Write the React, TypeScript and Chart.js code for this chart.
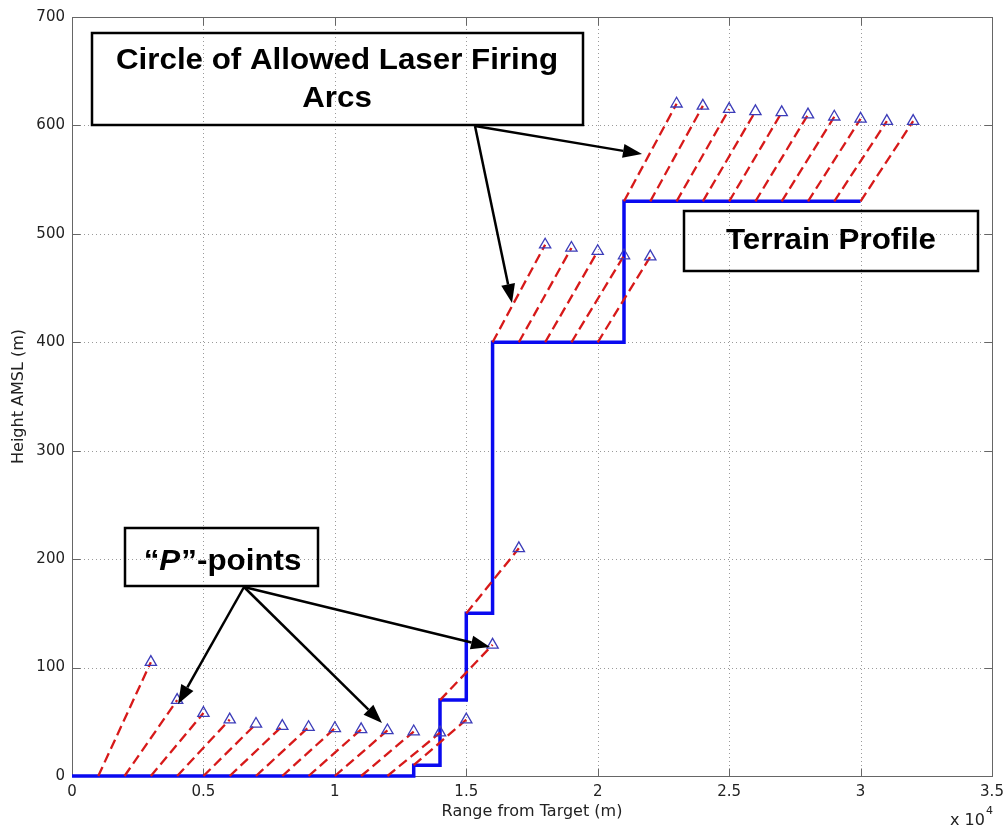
import React, { useEffect, useRef } from 'react';
import { Chart, registerables } from 'chart.js';

Chart.register(...registerables);

// ---------- data ----------
const terrainX = [0, 13000, 13000, 14000, 14000, 15000, 15000, 16000, 16000, 21000, 21000, 30000];
const terrainY = [0, 0, 10, 10, 70, 70, 150, 150, 400, 400, 530, 530];

// "P"-points (end of each laser firing arc)
const pointX = [
  3000, 4000, 5000, 6000, 7000, 8000, 9000, 10000, 11000, 12000, 13000, 14000, 15000, 16000, 17000,
  18000, 19000, 20000, 21000, 22000,
  23000, 24000, 25000, 26000, 27000, 28000, 29000, 30000, 31000, 32000,
];
const pointY = [
  105, 70, 58, 52, 48, 46, 45, 44, 43, 42, 41, 40, 52, 121, 210,
  490, 487, 484, 480, 479,
  620, 618, 615, 613, 612, 610, 608, 606, 604, 604,
];
// start of each arc on the terrain
const arcStartX = [
  1000, 2000, 3000, 4000, 5000, 6000, 7000, 8000, 9000, 10000, 11000, 12000, 13000, 14000, 15000,
  16000, 17000, 18000, 19000, 20000,
  21000, 22000, 23000, 24000, 25000, 26000, 27000, 28000, 29000, 30000,
];
const arcStartY = [
  0, 0, 0, 0, 0, 0, 0, 0, 0, 0, 0, 0, 10, 70, 150,
  400, 400, 400, 400, 400,
  530, 530, 530, 530, 530, 530, 530, 530, 530, 530,
];

const xTickLabels = ['0', '0.5', '1', '1.5', '2', '2.5', '3', '3.5'];
const yTickLabels = ['0', '100', '200', '300', '400', '500', '600', '700'];

const xTitle = 'Range from Target (m)';
const yTitle = 'Height AMSL (m)';
const boxText1 = ['Circle of Allowed Laser Firing', 'Arcs'];
const boxText2 = 'Terrain Profile';
const boxText3 = ['\u201C', 'P', '\u201D-points'];

// ---------- decoration plugin ----------
const BOLD = '"Liberation Sans", Arial, sans-serif';

function arrow(ctx: CanvasRenderingContext2D, x0: number, y0: number, x1: number, y1: number) {
  const ang = Math.atan2(y1 - y0, x1 - x0);
  const len = 19;
  const hw = 7;
  const bx = x1 - len * Math.cos(ang);
  const by = y1 - len * Math.sin(ang);
  ctx.beginPath();
  ctx.moveTo(x0, y0);
  ctx.lineTo(bx, by);
  ctx.stroke();
  ctx.beginPath();
  ctx.moveTo(x1, y1);
  ctx.lineTo(bx + hw * Math.sin(ang), by - hw * Math.cos(ang));
  ctx.lineTo(bx - hw * Math.sin(ang), by + hw * Math.cos(ang));
  ctx.closePath();
  ctx.fill();
}

function stretchedText(ctx: CanvasRenderingContext2D, text: string, cx: number, by: number, sx: number) {
  ctx.save();
  ctx.translate(cx, by);
  ctx.scale(sx, 1);
  ctx.textAlign = 'center';
  ctx.textBaseline = 'alphabetic';
  ctx.fillText(text, 0, 0);
  ctx.restore();
}

const decorPlugin = {
  id: 'decor',
  beforeDraw(chart: any) {
    const { ctx, width, height } = chart;
    ctx.save();
    ctx.fillStyle = '#ffffff';
    ctx.fillRect(0, 0, width, height);
    ctx.restore();
  },
  beforeDatasetsDraw(chart: any) {
    const { ctx, chartArea: a, scales } = chart;
    const xs = scales.x;
    const ys = scales.y;
    ctx.save();
    // dotted grid
    ctx.strokeStyle = '#9a9a9a';
    ctx.lineWidth = 1;
    ctx.setLineDash([1, 3]);
    xs.ticks.forEach((t: any) => {
      const px = Math.round(xs.getPixelForValue(t.value)) + 0.5;
      ctx.beginPath();
      ctx.moveTo(px, a.top);
      ctx.lineTo(px, a.bottom);
      ctx.stroke();
    });
    ys.ticks.forEach((t: any) => {
      const py = Math.round(ys.getPixelForValue(t.value)) + 0.5;
      ctx.beginPath();
      ctx.moveTo(a.left, py);
      ctx.lineTo(a.right, py);
      ctx.stroke();
    });
    ctx.setLineDash([]);
    // box
    ctx.strokeStyle = '#666666';
    const L = Math.round(a.left) + 0.5;
    const R = Math.round(a.right) + 0.5;
    const T = Math.round(a.top) + 0.5;
    const B = Math.round(a.bottom) + 0.5;
    ctx.strokeRect(L, T, R - L, B - T);
    // inward ticks
    const tl = 8;
    xs.ticks.forEach((t: any) => {
      const px = Math.round(xs.getPixelForValue(t.value)) + 0.5;
      ctx.beginPath();
      ctx.moveTo(px, B);
      ctx.lineTo(px, B - tl);
      ctx.moveTo(px, T);
      ctx.lineTo(px, T + tl);
      ctx.stroke();
    });
    ys.ticks.forEach((t: any) => {
      const py = Math.round(ys.getPixelForValue(t.value)) + 0.5;
      ctx.beginPath();
      ctx.moveTo(L, py);
      ctx.lineTo(L + tl, py);
      ctx.moveTo(R, py);
      ctx.lineTo(R - tl, py);
      ctx.stroke();
    });
    ctx.restore();
  },
  afterDatasetsDraw(chart: any) {
    const { ctx } = chart;
    ctx.save();
    ctx.strokeStyle = '#000000';
    ctx.fillStyle = '#000000';
    ctx.lineWidth = 2.5;
    ctx.lineJoin = 'miter';
    // boxes
    ctx.strokeRect(92, 33, 491, 92);
    ctx.strokeRect(684, 211, 294, 60);
    ctx.strokeRect(125, 528, 193, 58);
    // arrows
    ctx.lineWidth = 2.5;
    arrow(ctx, 475, 126, 642, 154);
    arrow(ctx, 475, 126, 512, 303);
    arrow(ctx, 244, 587, 178, 704);
    arrow(ctx, 244, 587, 382, 723);
    arrow(ctx, 244, 587, 490, 647);
    // texts
    ctx.font = `bold 29px ${BOLD}`;
    stretchedText(ctx, boxText1[0], 337, 69, 1.08);
    stretchedText(ctx, boxText1[1], 337, 107, 1.08);
    stretchedText(ctx, boxText2, 831, 249, 1.08);
    // "P"-points with italic P
    const sx = 1.08;
    const fNorm = `bold 29px ${BOLD}`;
    const fItal = `italic bold 29px ${BOLD}`;
    ctx.font = fNorm;
    const w0 = ctx.measureText(boxText3[0]).width;
    const w2 = ctx.measureText(boxText3[2]).width;
    ctx.font = fItal;
    const w1 = ctx.measureText(boxText3[1]).width;
    const total = (w0 + w1 + w2) * sx;
    ctx.save();
    ctx.translate(222 - total / 2, 570);
    ctx.scale(sx, 1);
    ctx.textAlign = 'left';
    ctx.textBaseline = 'alphabetic';
    ctx.font = fNorm;
    ctx.fillText(boxText3[0], 0, 0);
    ctx.font = fItal;
    ctx.fillText(boxText3[1], w0, 0);
    ctx.font = fNorm;
    ctx.fillText(boxText3[2], w0 + w1 + 1, 0);
    ctx.restore();
    // x 10^4 exponent label
    ctx.fillStyle = '#222222';
    ctx.textAlign = 'left';
    ctx.textBaseline = 'alphabetic';
    ctx.font = '16px "DejaVu Sans", sans-serif';
    ctx.fillText('x 10', 950, 825);
    ctx.font = '11px "DejaVu Sans", sans-serif';
    ctx.fillText('4', 986, 814);
    ctx.restore();
  },
};

export default function App() {
  const ref = useRef<HTMLCanvasElement | null>(null);

  useEffect(() => {
    const prevMargin = document.body.style.margin;
    document.body.style.margin = '0';
    const canvas = ref.current;
    if (!canvas) return;

    const terrainData = terrainX.map((x, i) => ({ x, y: terrainY[i] }));
    const arcData: { x: number; y: number | null }[] = [];
    arcStartX.forEach((x, i) => {
      arcData.push({ x, y: arcStartY[i] });
      arcData.push({ x: pointX[i], y: pointY[i] });
      arcData.push({ x: pointX[i], y: null });
    });
    const pData = pointX.map((x, i) => ({ x, y: pointY[i] }));

    const tickFont = { family: '"DejaVu Sans", sans-serif', size: 15 };
    const titleFont = { family: '"DejaVu Sans", sans-serif', size: 16 };

    const chart = new Chart(canvas, {
      type: 'line',
      data: {
        datasets: [
          {
            label: 'P-points',
            data: pData,
            showLine: false,
            pointStyle: 'triangle',
            pointRadius: 6.5,
            pointBorderWidth: 1.3,
            pointBorderColor: 'rgb(60,60,185)',
            pointBackgroundColor: 'rgba(0,0,0,0)',
            order: 1,
            clip: false,
          } as any,
          {
            label: 'Arcs',
            data: arcData,
            borderColor: 'rgb(215,25,25)',
            borderWidth: 2.3,
            borderDash: [10, 5],
            pointRadius: 0,
            spanGaps: false,
            tension: 0,
            order: 2,
            clip: false,
          } as any,
          {
            label: 'Terrain',
            data: terrainData,
            borderColor: 'rgb(10,10,240)',
            borderWidth: 3.5,
            pointRadius: 0,
            tension: 0,
            order: 3,
            clip: false,
            borderJoinStyle: 'miter',
          } as any,
        ],
      },
      options: {
        animation: false,
        responsive: false,
        devicePixelRatio: 1,
        parsing: true,
        layout: { padding: { left: 0, top: 17, right: 16, bottom: 0 } },
        plugins: {
          legend: { display: false },
          tooltip: { enabled: false },
          title: { display: false },
        },
        scales: {
          x: {
            type: 'linear',
            min: 0,
            max: 35000,
            grid: { display: false, drawTicks: false },
            border: { display: false },
            ticks: {
              stepSize: 5000,
              padding: 7,
              color: '#222222',
              font: tickFont,
              maxRotation: 0,
              autoSkip: false,
              callback: (_v: any, i: number) => xTickLabels[i],
            },
            title: {
              display: true,
              text: xTitle,
              color: '#222222',
              font: titleFont,
              padding: { top: 0, bottom: 8 },
            },
            afterFit: (s: any) => {
              s.height = 53;
              s.paddingLeft = 0;
              s.paddingRight = 0;
            },
          },
          y: {
            type: 'linear',
            min: 0,
            max: 700,
            grid: { display: false, drawTicks: false },
            border: { display: false },
            ticks: {
              stepSize: 100,
              padding: 7,
              color: '#222222',
              font: tickFont,
              autoSkip: false,
              callback: (_v: any, i: number) => yTickLabels[i],
            },
            title: {
              display: true,
              text: yTitle,
              color: '#222222',
              font: titleFont,
              padding: { top: 9, bottom: 0 },
            },
            afterFit: (s: any) => {
              s.width = 72;
              s.paddingTop = 0;
              s.paddingBottom = 0;
            },
          },
        },
      } as any,
      plugins: [decorPlugin as any],
    });

    return () => {
      chart.destroy();
      document.body.style.margin = prevMargin;
    };
  }, []);

  return (
    <div style={{ position: 'fixed', left: 0, top: 0, width: 1008, height: 829, background: '#fff' }}>
      <canvas ref={ref} width={1008} height={829} style={{ display: 'block', width: 1008, height: 829 }} />
    </div>
  );
}
